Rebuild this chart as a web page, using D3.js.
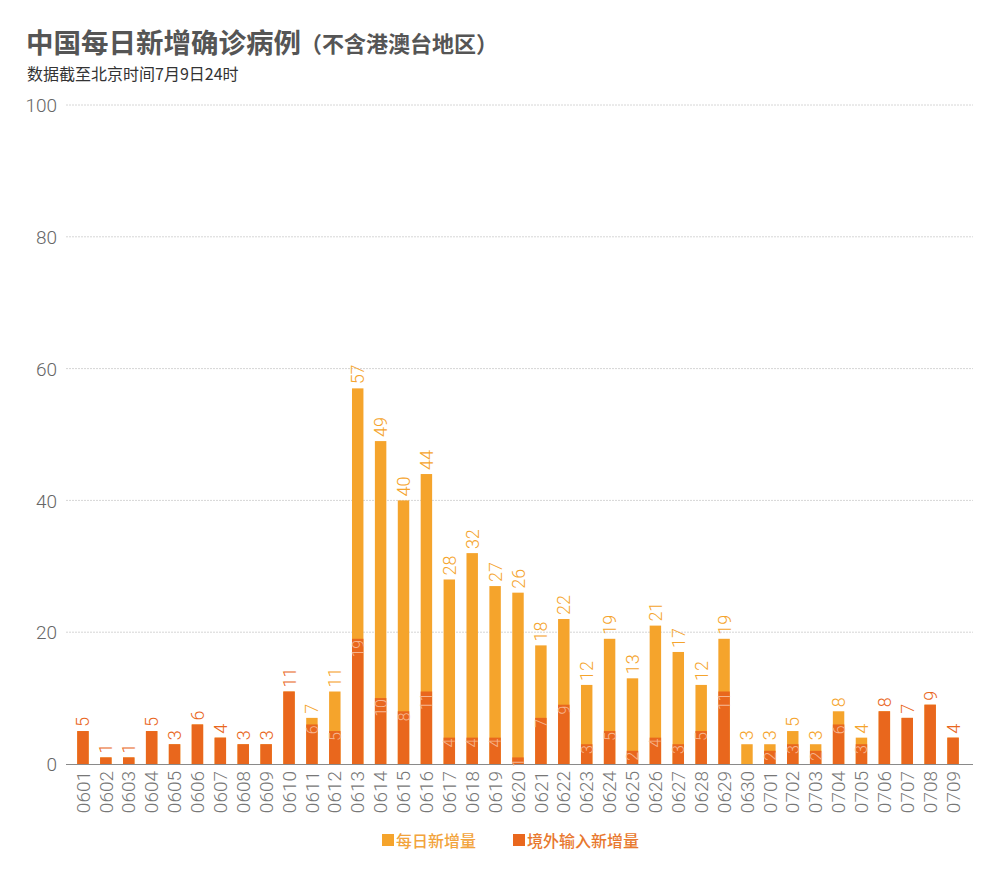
<!DOCTYPE html>
<html><head><meta charset="utf-8">
<script src="https://cdn.jsdelivr.net/npm/d3@7/dist/d3.min.js"></script>
<style>
body{margin:0;background:#fff;}
svg{display:block;font-family:"Noto Sans CJK SC","Noto Sans",sans-serif;}
</style></head>
<body><svg id="c" width="1000" height="875"></svg>
<script>
const dates = ["0601","0602","0603","0604","0605","0606","0607","0608","0609","0610","0611","0612","0613","0614","0615","0616","0617","0618","0619","0620","0621","0622","0623","0624","0625","0626","0627","0628","0629","0630","0701","0702","0703","0704","0705","0706","0707","0708","0709"];
const totalNew = [5,1,1,5,3,6,4,3,3,11,7,11,57,49,40,44,28,32,27,26,18,22,12,19,13,21,17,12,19,3,3,5,3,8,4,8,7,9,4];
const importedNew = [5,1,1,5,3,6,4,3,3,11,6,5,19,10,8,11,4,4,4,1,7,9,3,5,2,4,3,5,11,0,2,3,2,6,3,8,7,9,4];
const yTicks = [0,20,40,60,80,100];
const seriesNames = ["每日新增量","境外输入新增量"];

const C_TOTAL = "#F5A42C", C_IMP = "#E9671D";
const svg = d3.select("#c");
const x = d3.scaleBand().domain(dates).range([71.5,964.5]).paddingInner(0.5).paddingOuter(0.25);
const y = d3.scaleLinear().domain([0,100]).range([764,105]);

// title
svg.append("text").attr("x",26).attr("y",53).attr("font-size",27.5).attr("font-weight",700).attr("fill","#555")
  .text("中国每日新增确诊病例");
svg.append("text").attr("x",300).attr("y",52).attr("font-size",22).attr("font-weight",700).attr("fill","#555")
  .text("（不含港澳台地区）");
svg.append("text").attr("x",27).attr("y",80).attr("font-size",16).attr("fill","#333")
  .text("数据截至北京时间7月9日24时");

// grid
const g = svg.append("g");
yTicks.filter(d=>d>0).forEach(t=>{
  g.append("line").attr("x1",66).attr("x2",973).attr("y1",y(t)).attr("y2",y(t))
   .attr("stroke","#d6d6d6").attr("stroke-width",1).attr("stroke-dasharray","2,1");
});
const yAxis = d3.axisLeft(y).tickValues(yTicks).tickSize(0).tickPadding(0);
const ya = svg.append("g").attr("transform","translate(57,0)").call(yAxis);
ya.select(".domain").remove();
ya.selectAll("text").attr("font-size",19).attr("fill","#666").attr("font-family","Roboto, 'Noto Sans', sans-serif").attr("font-weight",300).attr("dy","0.35em");

// bars
const bars = svg.append("g");
dates.forEach((d,i)=>{
  const bx = x(d), bw = x.bandwidth();
  bars.append("rect").attr("x",bx).attr("width",bw).attr("y",y(totalNew[i])).attr("height",y(0)-y(totalNew[i])).attr("fill",C_TOTAL);
  if(importedNew[i]>0)
    bars.append("rect").attr("x",bx).attr("width",bw).attr("y",y(importedNew[i])).attr("height",y(0)-y(importedNew[i])).attr("fill",C_IMP);
});

// baseline
svg.append("line").attr("x1",66).attr("x2",973).attr("y1",y(0)+0.5).attr("y2",y(0)+0.5).attr("stroke","#8a8a8a").attr("stroke-width",1);

// value labels
const lab = svg.append("g").attr("font-family","Roboto, 'Noto Sans', sans-serif").attr("font-weight",300).attr("font-size",18);
dates.forEach((d,i)=>{
  const cx = x(d)+x.bandwidth()/2;
  const allImp = importedNew[i]===totalNew[i];
  lab.append("text").attr("transform",`translate(${cx+6.5},${y(totalNew[i])-4}) rotate(-90)`)
    .attr("text-anchor","start").attr("fill", allImp?C_IMP:C_TOTAL).text(totalNew[i]);
  if(!allImp && importedNew[i]>0){
    lab.append("text").attr("transform",`translate(${cx+6},${y(importedNew[i])+1}) rotate(-90)`)
      .attr("text-anchor","end").attr("fill","#F6B58F").attr("font-size",16).text(importedNew[i]);
  }
});

// x axis labels
const xAxis = d3.axisBottom(x).tickSize(0).tickPadding(0);
const xa = svg.append("g").attr("transform",`translate(0,${y(0)})`).call(xAxis);
xa.select(".domain").remove();
xa.selectAll("text").attr("font-size",19).attr("fill","#777").attr("font-family","Roboto, 'Noto Sans', sans-serif").attr("font-weight",300)
  .attr("transform","rotate(-90)").attr("text-anchor","end").attr("x",-7).attr("y",0).attr("dy","0.35em");

// legend
const leg = svg.append("g").attr("font-size",16).attr("font-weight",500);
const legX = [382,513], legCol=[C_TOTAL,C_IMP], legTxt=["#F2A43C","#E8782E"];
seriesNames.forEach((n,i)=>{
  leg.append("rect").attr("x",legX[i]).attr("y",834).attr("width",12).attr("height",12).attr("fill",legCol[i]);
  leg.append("text").attr("x",legX[i]+14).attr("y",847).attr("fill",legTxt[i]).text(n);
});
</script></body></html>
